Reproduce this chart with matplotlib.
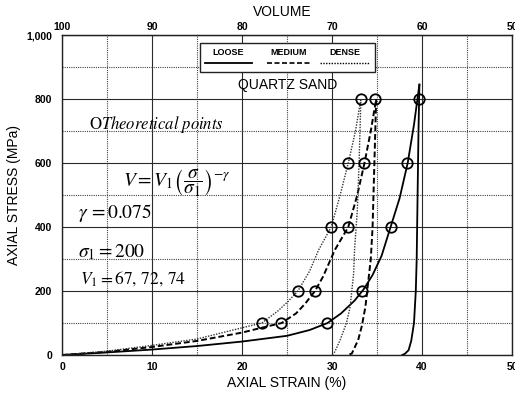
import matplotlib
matplotlib.use("Agg")
import matplotlib.pyplot as plt
from matplotlib.ticker import MultipleLocator, FuncFormatter
from matplotlib.patches import Rectangle
from matplotlib.lines import Line2D

plt.rcParams['font.family'] = ['Liberation Sans', 'DejaVu Sans']
plt.rcParams['mathtext.fontset'] = 'stix'

# ---- data (axial strain %, axial stress MPa) ----
loose_load_x = [0, 5, 10, 15, 20, 25, 27.5, 29.5, 31, 32.5, 33.5, 34.5, 35.5, 36.5, 37.5, 38.4, 39.1, 39.7]
loose_load_y = [0, 8, 17, 28, 42, 60, 78, 100, 130, 170, 205, 250, 310, 400, 490, 600, 720, 845]
loose_unl_x = [39.7, 39.6, 39.5, 39.4, 39.3, 39.1, 38.8, 38.5, 38.1, 37.8]
loose_unl_y = [845, 700, 500, 300, 200, 100, 45, 15, 4, 0]

medium_load_x = [0, 5, 10, 15, 20, 22, 24.4, 26, 27, 28.1, 29, 30.3, 31.8, 32.8, 33.6, 34.3, 34.9]
medium_load_y = [0, 10, 25, 44, 70, 84, 100, 130, 160, 200, 245, 328, 400, 500, 600, 700, 800]
medium_unl_x = [34.9, 34.7, 34.5, 34.3, 34.1, 33.7, 33.3, 32.9, 32.2, 31.8]
medium_unl_y = [800, 600, 400, 300, 250, 150, 90, 47, 5, 0]

dense_load_x = [0, 5, 10, 15, 20, 22.2, 24, 25.2, 26.2, 27.5, 28.5, 29.9, 30.9, 31.8, 32.6, 33.2]
dense_load_y = [0, 12, 30, 50, 85, 100, 138, 170, 200, 262, 328, 400, 500, 600, 700, 800]
dense_unl_x = [33.2, 33.0, 32.8, 32.5, 32.4, 32.0, 31.6, 30.9, 30.3, 30.0]
dense_unl_y = [800, 600, 450, 330, 256, 150, 100, 47, 10, 0]

theo_stress = [100, 200, 400, 600, 800]
theo_loose = [29.4, 33.3, 36.5, 38.3, 39.7]
theo_medium = [24.3, 28.1, 31.8, 33.6, 34.8]
theo_dense = [22.2, 26.2, 29.9, 31.8, 33.2]

x_ticks = [0, 10, 20, 30, 40, 50]
y_ticks = [0, 200, 400, 600, 800, 1000]
vol_ticks = [100, 90, 80, 70, 60, 50]

fig = plt.figure(figsize=(5.15, 3.94), dpi=100)
ax = fig.add_axes([0.1204, 0.099, 0.874, 0.812])

ax.set_xlim(0, 50)
ax.set_ylim(0, 1000)
ax.set_xticks(x_ticks)
ax.set_yticks(y_ticks)
ax.xaxis.set_minor_locator(MultipleLocator(5))
ax.yaxis.set_minor_locator(MultipleLocator(100))
ax.yaxis.set_major_formatter(FuncFormatter(lambda v, p: f"{int(v):,}"))
ax.grid(which='major', color='#2a2a2a', linewidth=0.8, linestyle='-')
ax.grid(which='minor', color='#444444', linewidth=0.8, linestyle=(0, (1, 1)))
ax.set_axisbelow(True)
ax.tick_params(which='both', length=0)
ax.tick_params(axis='x', pad=5)
ax.tick_params(axis='y', pad=7)
for lab in ax.get_xticklabels() + ax.get_yticklabels():
    lab.set_fontweight('bold')
    lab.set_fontsize(7.5)
for s in ax.spines.values():
    s.set_linewidth(1.0)
    s.set_color('#222222')

ax.set_xlabel("AXIAL STRAIN (%)", fontsize=10, labelpad=3)
ax.set_ylabel("AXIAL STRESS (MPa)", fontsize=10, labelpad=4)

sec = ax.secondary_xaxis('top', functions=(lambda x: 100 - x, lambda v: 100 - v))
sec.set_xticks(vol_ticks)
sec.tick_params(length=0, pad=2)
for lab in sec.get_xticklabels():
    lab.set_fontweight('bold')
    lab.set_fontsize(7.5)
sec.set_xlabel("VOLUME", fontsize=10)
sec.xaxis.label.set_verticalalignment('center')
sec.xaxis.set_label_coords(0.489, 1.072, transform=ax.transAxes)

# curves
ax.plot(loose_load_x, loose_load_y, color='black', lw=1.3, ls='-')
ax.plot(loose_unl_x, loose_unl_y, color='black', lw=1.3, ls='-')
ax.plot(medium_load_x, medium_load_y, color='black', lw=1.4, ls=(0, (3, 1.5)))
ax.plot(medium_unl_x, medium_unl_y, color='black', lw=1.4, ls=(0, (3, 1.5)))
ax.plot(dense_load_x, dense_load_y, color='#333333', lw=1.0, ls=(0, (1, 1)))
ax.plot(dense_unl_x, dense_unl_y, color='#333333', lw=1.0, ls=(0, (1, 1)))

for xs in (theo_loose, theo_medium, theo_dense):
    ax.plot(xs, theo_stress, ls='none', marker='o', ms=7.5, mfc='none', mec='black', mew=1.3)

# legend box (manual layout: labels above line samples)
tr = ax.transAxes
def ax_x(px):
    return (px - 62) / 450.0
def ax_y(py):
    return (355 - py) / 320.0
ax.add_patch(Rectangle((ax_x(200), ax_y(72)), ax_x(375) - ax_x(200), ax_y(43) - ax_y(72),
                       transform=tr, facecolor='white', edgecolor='#222222', lw=1.0, zorder=5))
leg_items = [("LOOSE", '-', 1.3, 205, 252), ("MEDIUM", (0, (3, 1.5)), 1.2, 267, 310), ("DENSE", (0, (1, 1)), 1.0, 320, 370)]
for name, lsty, lw, x0, x1 in leg_items:
    ax.text(ax_x((x0 + x1) / 2), ax_y(52), name, transform=tr, ha='center', va='center',
            fontsize=6.5, fontweight='bold', zorder=6)
    ax.add_line(Line2D([ax_x(x0), ax_x(x1)], [ax_y(63), ax_y(63)], transform=tr,
                       color='black', lw=lw, ls=lsty, zorder=6))

ax.text(ax_x(288), ax_y(85), "QUARTZ SAND", transform=tr, ha='center', va='center', fontsize=10)

ax.text(3.0, 722, r"$\mathrm{O}\mathit{Theoretical\ points}$", fontsize=12, ha='left', va='center')
ax.text(6.8, 540, r"$V = V_1\left(\dfrac{\sigma}{\sigma_1}\right)^{-\gamma}$", fontsize=14, ha='left', va='center')
ax.text(1.8, 443, r"$\gamma\, = 0.075$", fontsize=14, ha='left', va='center')
ax.text(1.8, 322, r"$\sigma_1 = 200$", fontsize=14, ha='left', va='center')
ax.text(2.0, 240, r"$V_1 = 67,\,72,\,74$", fontsize=12.5, ha='left', va='center')

fig.savefig("out.png", dpi=100)
